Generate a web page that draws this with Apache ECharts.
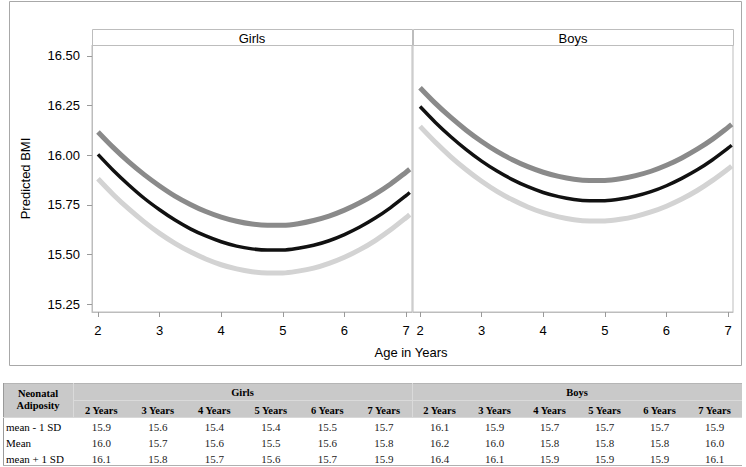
<!DOCTYPE html>
<html>
<head>
<meta charset="utf-8">
<script src="https://cdn.jsdelivr.net/npm/echarts@6/dist/echarts.min.js"></script>
<style>
html,body{margin:0;padding:0;background:#fff;}
#main{width:746px;height:467px;}
</style>
</head>
<body>
<div id="main"></div>
<script>
// ---- chart data ----
const ages = [2, 2.25, 2.5, 2.75, 3, 3.25, 3.5, 3.75, 4, 4.25, 4.5, 4.75, 5, 5.25, 5.5, 5.75, 6, 6.25, 6.5, 6.75, 7, 7.06];
const girlsMinus1SD = [15.881, 15.801, 15.729, 15.664, 15.606, 15.556, 15.513, 15.477, 15.448, 15.427, 15.413, 15.407, 15.407, 15.416, 15.431, 15.455, 15.486, 15.524, 15.570, 15.624, 15.685, 15.701];
const girlsMean     = [16.004, 15.923, 15.850, 15.783, 15.725, 15.673, 15.629, 15.593, 15.564, 15.542, 15.528, 15.522, 15.522, 15.531, 15.546, 15.569, 15.600, 15.638, 15.683, 15.736, 15.796, 15.812];
const girlsPlus1SD  = [16.117, 16.038, 15.966, 15.902, 15.845, 15.794, 15.752, 15.716, 15.688, 15.667, 15.653, 15.647, 15.647, 15.655, 15.671, 15.693, 15.723, 15.760, 15.804, 15.855, 15.914, 15.929];
const boysMinus1SD  = [16.145, 16.065, 15.992, 15.927, 15.869, 15.818, 15.775, 15.739, 15.710, 15.689, 15.675, 15.669, 15.669, 15.677, 15.692, 15.714, 15.743, 15.779, 15.822, 15.873, 15.930, 15.945];
const boysMean      = [16.245, 16.165, 16.093, 16.028, 15.970, 15.920, 15.877, 15.841, 15.812, 15.791, 15.777, 15.771, 15.771, 15.779, 15.794, 15.816, 15.846, 15.883, 15.926, 15.977, 16.035, 16.050];
const boysPlus1SD   = [16.340, 16.261, 16.190, 16.126, 16.069, 16.019, 15.977, 15.942, 15.914, 15.893, 15.879, 15.873, 15.873, 15.881, 15.897, 15.919, 15.949, 15.986, 16.030, 16.081, 16.140, 16.155];

const xTicks = [2, 3, 4, 5, 6, 7];
const yTicks = [15.25, 15.50, 15.75, 16.00, 16.25, 16.50];
const panelNames = ['Girls', 'Boys'];

// ---- table data ----
const tableRowLabels = ['mean - 1 SD', 'Mean', 'mean + 1 SD'];
const tableYears = ['2 Years', '3 Years', '4 Years', '5 Years', '6 Years', '7 Years'];
const tableGirls = [
  [15.9, 15.6, 15.4, 15.4, 15.5, 15.7],
  [16.0, 15.7, 15.6, 15.5, 15.6, 15.8],
  [16.1, 15.8, 15.7, 15.6, 15.7, 15.9]
];
const tableBoys = [
  [16.1, 15.9, 15.7, 15.7, 15.7, 15.9],
  [16.2, 16.0, 15.8, 15.8, 15.8, 16.0],
  [16.4, 16.1, 15.9, 15.9, 15.9, 16.1]
];

// ---- build ----
const SANS = '"Liberation Sans", Arial, sans-serif';
const SERIF = '"Liberation Serif", "Times New Roman", serif';
const zip = (xs, ys) => xs.map((x, i) => [x, ys[i]]);

const grids = [
  {left: 92, top: 45, width: 320, height: 267},
  {left: 413, top: 45, width: 320, height: 267}
];
grids.forEach(g => { g.show = true; g.borderColor = '#bdbdbd'; g.borderWidth = 1; g.backgroundColor = 'transparent'; });

const xRanges = [[1.903, 7.097], [1.886, 7.081]];

const xAxes = xRanges.map((r, i) => ({
  type: 'value', gridIndex: i, min: r[0], max: r[1],
  axisLine: {show: true, lineStyle: {color: '#bdbdbd'}},
  axisTick: {show: true, length: 5, lineStyle: {color: '#9a9a9a'}, customValues: xTicks},
  axisLabel: {show: true, color: '#000', fontSize: 13, fontFamily: SANS, margin: 12, customValues: xTicks,
              formatter: v => String(Math.round(v))},
  splitLine: {show: false}
}));

const yAxes = [0, 1].map(i => ({
  type: 'value', gridIndex: i, min: 15.21, max: 16.555,
  name: i === 0 ? 'Predicted BMI' : '', nameLocation: 'middle', nameGap: 60,
  nameTextStyle: {color: '#000', fontSize: 13, fontFamily: SANS},
  axisLine: {show: i === 0, lineStyle: {color: '#bdbdbd'}},
  axisTick: {show: i === 0, length: 5, lineStyle: {color: '#9a9a9a'}, customValues: yTicks},
  axisLabel: {show: i === 0, color: '#000', fontSize: 13, fontFamily: SANS, margin: 12, customValues: yTicks,
              formatter: v => v.toFixed(2)},
  splitLine: {show: false}
}));

function lineSeries(name, data, idx, color, width) {
  return {
    name: name, type: 'line', xAxisIndex: idx, yAxisIndex: idx,
    data: zip(ages, data), smooth: 0.3, showSymbol: false, symbol: 'none',
    lineStyle: {color: color, width: width, cap: 'butt'},
    silent: true, animation: false
  };
}

const DARK = '#8a8a8a', BLACK = '#111111', LIGHT = '#d3d3d3';
const series = [
  lineSeries('mean + 1 SD', girlsPlus1SD, 0, DARK, 5),
  lineSeries('mean - 1 SD', girlsMinus1SD, 0, LIGHT, 5),
  lineSeries('Mean', girlsMean, 0, BLACK, 3.5),
  lineSeries('mean + 1 SD', boysPlus1SD, 1, DARK, 5),
  lineSeries('mean - 1 SD', boysMinus1SD, 1, LIGHT, 5),
  lineSeries('Mean', boysMean, 1, BLACK, 3.5)
];

function txt(text, x, y, font, align, vAlign, color) {
  return {
    type: 'text', silent: true,
    style: {text: text, x: x, y: y, font: font, fill: color || '#000',
            align: align, verticalAlign: vAlign || 'middle',
            textAlign: align, textVerticalAlign: vAlign || 'middle'}
  };
}
function rect(x, y, w, h, fill, stroke) {
  return {type: 'rect', silent: true, shape: {x: x, y: y, width: w, height: h},
          style: {fill: fill, stroke: stroke || null, lineWidth: 1}};
}
function line(x1, y1, x2, y2, color) {
  return {type: 'line', silent: true, shape: {x1: x1, y1: y1, x2: x2, y2: y2},
          style: {stroke: color, lineWidth: 1}};
}

const graphics = [];
// outer frame
graphics.push(rect(9.5, 1.5, 732, 364, 'none', '#a8a8a8'));
// panel header strips
grids.forEach((g, i) => {
  graphics.push(rect(g.left + 0.5, 29.5, g.width, 16, '#fff', '#bdbdbd'));
  graphics.push(txt(panelNames[i], g.left + g.width / 2, 38, '13px ' + SANS, 'center'));
});
// shared x axis title
graphics.push(txt('Age in Years', 411, 352, '13px ' + SANS, 'center'));

// ---- table ----
const tTop = 383, tHeadMid = 400, tHeadBot = 417, tLeft = 3, tRight = 742;
const col0 = 73, colMid = 412;
const rowY = [426.5, 442.5, 458.5];
graphics.push(rect(tLeft, tTop, tRight - tLeft, tHeadBot - tTop, '#c9c9c9'));
graphics.push(line(tLeft, tTop + 0.5, tRight, tTop + 0.5, '#b5b5b5'));
graphics.push(line(col0, tHeadMid + 0.5, tRight, tHeadMid + 0.5, '#dadada'));
graphics.push(line(col0 + 0.5, tTop, col0 + 0.5, tHeadBot, '#dadada'));
graphics.push(line(colMid + 0.5, tTop, colMid + 0.5, tHeadBot, '#dadada'));
graphics.push(line(tLeft + 0.5, tTop, tLeft + 0.5, 466, '#9a9a9a'));
graphics.push(line(tLeft, 465.5, tRight, 465.5, '#b0b0b0'));
graphics.push(line(tLeft, tHeadBot + 0.5, tRight, tHeadBot + 0.5, '#d8d8d8'));

const HB = 'bold 10.5px ' + SERIF, TD = '11px ' + SERIF;
graphics.push(txt('Neonatal', (tLeft + col0) / 2, 393, HB, 'center'));
graphics.push(txt('Adiposity', (tLeft + col0) / 2, 405.5, HB, 'center'));
const gw = (colMid - col0) / 6, bw = (tRight - colMid) / 6;
graphics.push(txt(panelNames[0], (col0 + colMid) / 2, 392.5, HB, 'center'));
graphics.push(txt(panelNames[1], (colMid + tRight) / 2, 392.5, HB, 'center'));
tableYears.forEach((y, j) => {
  graphics.push(txt(y, col0 + gw * (j + 0.5), 410.5, HB, 'center'));
  graphics.push(txt(y, colMid + bw * (j + 0.5), 410.5, HB, 'center'));
});
tableRowLabels.forEach((lab, r) => {
  graphics.push(txt(lab, 6, rowY[r], TD, 'left'));
  tableGirls[r].forEach((v, j) => graphics.push(txt(v.toFixed(1), col0 + gw * (j + 0.5), rowY[r], TD, 'center', 'middle', '#222')));
  tableBoys[r].forEach((v, j) => graphics.push(txt(v.toFixed(1), colMid + bw * (j + 0.5), rowY[r], TD, 'center', 'middle', '#222')));
});

const chart = echarts.init(document.getElementById('main'), null, {renderer: 'svg', width: 746, height: 467});
chart.setOption({
  backgroundColor: '#fff',
  animation: false,
  textStyle: {fontFamily: SANS},
  grid: grids,
  xAxis: xAxes,
  yAxis: yAxes,
  series: series,
  graphic: {elements: graphics}
});
</script>
</body>
</html>
